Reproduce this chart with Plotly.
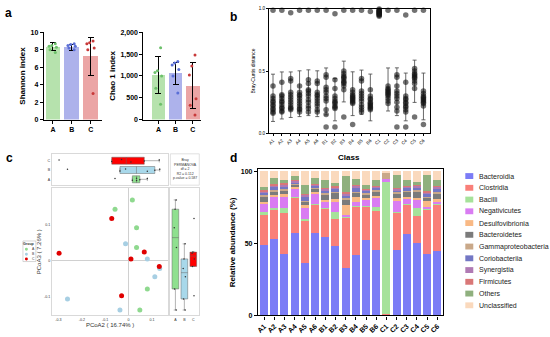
import plotly.graph_objects as go

W, H = 550, 337
FONT = "Liberation Sans, Arial, sans-serif"

# ---------------- data ----------------
groups = ["A", "B", "C"]
shannon_mean = [8.35, 8.3, 7.25]
shannon_sd = [0.45, 0.35, 2.15]
shannon_A = [8.7, 8.5, 8.4, 8.3, 8.0, 7.7]
shannon_B = [8.7, 8.6, 8.5, 8.4, 8.2, 8.0]
shannon_C = [9.0, 8.8, 8.7, 8.2, 8.0, 3.0]

chao_mean = [1025, 1065, 780]
chao_sd = [420, 250, 530]
chao_A = [1650, 1120, 1080, 1000, 720, 350]
chao_B = [1330, 1300, 1250, 1150, 1000, 610]
chao_C = [1480, 1230, 1020, 480, 330, 105]

samples = ["A1", "A2", "A3", "A4", "A5", "A6",
           "B1", "B2", "B3", "B4", "B5", "B6",
           "C1", "C2", "C3", "C4", "C5", "C6"]
bray_mean = [0.285, 0.304, 0.31, 0.318, 0.326, 0.318,
             0.336, 0.27, 0.416, 0.318, 0.33, 0.288,
             0.975, 0.352, 0.334, 0.292, 0.418, 0.296]
bray_sd = [0.19, 0.189, 0.183, 0.184, 0.184, 0.184,
           0.189, 0.17, 0.164, 0.176, 0.178, 0.188,
           0.02, 0.173, 0.192, 0.192, 0.17, 0.188]
bray_A = [
    [0.99, 0.38, 0.30, 0.28, 0.26, 0.25, 0.23, 0.22, 0.20, 0.19, 0.17, 0.16],
    [0.99, 0.41, 0.31, 0.30, 0.28, 0.26, 0.25, 0.23, 0.21, 0.20, 0.18, 0.17],
    [0.97, 0.44, 0.42, 0.33, 0.31, 0.29, 0.27, 0.25, 0.23, 0.21, 0.20, 0.19],
    [0.99, 0.38, 0.33, 0.31, 0.30, 0.28, 0.26, 0.24, 0.22, 0.20, 0.19, 0.17],
    [0.99, 0.43, 0.40, 0.35, 0.34, 0.32, 0.30, 0.27, 0.25, 0.22, 0.20, 0.17],
    [0.99, 0.42, 0.40, 0.33, 0.31, 0.30, 0.28, 0.26, 0.24, 0.22, 0.19, 0.17],
]
bray_B = [
    [0.99, 0.47, 0.45, 0.37, 0.35, 0.33, 0.30, 0.28, 0.26, 0.19, 0.15, 0.05],
    [0.96, 0.43, 0.36, 0.30, 0.28, 0.26, 0.25, 0.24, 0.22, 0.21, 0.20, 0.05],
    [0.99, 0.50, 0.48, 0.46, 0.45, 0.44, 0.42, 0.41, 0.40, 0.38, 0.35, 0.13],
    [0.99, 0.35, 0.33, 0.31, 0.30, 0.29, 0.28, 0.27, 0.26, 0.25, 0.24, 0.07],
    [0.99, 0.44, 0.42, 0.34, 0.32, 0.30, 0.28, 0.26, 0.23, 0.21, 0.19, 0.17],
    [0.98, 0.35, 0.30, 0.28, 0.27, 0.25, 0.24, 0.23, 0.22, 0.21, 0.20, 0.19],
]
bray_C = [
    [1.00, 0.99, 0.99, 0.98, 0.98, 0.97, 0.97, 0.96, 0.96, 0.95, 0.95, 0.94],
    [0.99, 0.38, 0.36, 0.35, 0.34, 0.33, 0.32, 0.31, 0.30, 0.28, 0.26, 0.24],
    [0.99, 0.47, 0.45, 0.38, 0.34, 0.32, 0.30, 0.28, 0.25, 0.21, 0.18, 0.05],
    [0.95, 0.41, 0.30, 0.28, 0.27, 0.25, 0.24, 0.22, 0.21, 0.19, 0.17, 0.05],
    [0.99, 0.52, 0.50, 0.48, 0.47, 0.46, 0.45, 0.44, 0.42, 0.40, 0.36, 0.13],
    [0.99, 0.34, 0.32, 0.30, 0.29, 0.28, 0.27, 0.26, 0.25, 0.24, 0.22, 0.07],
]

pcoa2_A = [0.016, -0.058, 0.034, 0.034, 0.080, 0.048]
pcoa3_A = [0.170, 0.144, 0.092, 0.037, -0.079, -0.138]
pcoa2_B = [-0.013, 0.080, 0.133, 0.112, -0.261, -0.037]
pcoa3_B = [0.047, 0.005, -0.022, -0.045, -0.107, -0.138]
pcoa2_C = [-0.072, -0.297, 0.067, 0.010, 0.131, -0.030]
pcoa3_C = [0.118, 0.021, 0.024, 0.005, -0.016, -0.098]
permanova_text = ["Bray", "PERMANOVA", "df = 2", "R2 = 0.112", "p-value = 0.587"]

class_names = ["Bacteroidia", "Clostridia", "Bacilli", "Negativicutes", "Desulfovibrionia",
               "Bacteroidetes", "Gammaproteobacteria", "Coriobacteriia", "Synergistia",
               "Firmicutes", "Others", "Unclassified"]
bacteroidia = [49.2, 53.1, 42.4, 57.6, 36.7, 57.1, 54.6, 48.5, 32.7, 41.7, 52.4, 45.6, 0.0, 45.1, 56.9, 50.1, 42.4, 44.7]
clostridia = [20.9, 20.4, 28.8, 24.3, 28.8, 19.3, 19.5, 18.8, 35.1, 33.4, 22.7, 27.2, 0.8, 26.1, 20.0, 18.8, 31.1, 32.2]
bacilli = [1.8, 1.1, 3.4, 0.6, 1.6, 1.2, 0.5, 4.6, 0.7, 0.6, 0.6, 2.3, 91.9, 0.7, 0.7, 5.7, 0.6, 0.7]
negativicutes = [5.4, 7.9, 7.9, 5.3, 7.5, 6.5, 4.1, 7.2, 1.6, 3.0, 4.6, 6.3, 2.3, 7.7, 3.4, 5.7, 1.0, 1.5]
desulfovibrionia = [1.4, 1.2, 1.6, 1.1, 2.3, 1.4, 1.6, 1.6, 6.8, 3.8, 1.6, 1.6, 0.0, 2.3, 1.1, 1.6, 4.5, 1.6]
bacteroidetes = [3.8, 2.4, 2.3, 1.6, 1.8, 2.3, 3.4, 4.1, 3.4, 2.3, 1.8, 2.9, 0.0, 2.2, 3.4, 4.0, 1.8, 3.4]
gammaproteobacteria = [1.2, 1.1, 1.4, 0.7, 0.9, 0.9, 1.1, 1.1, 1.1, 1.1, 1.1, 1.1, 4.3, 1.4, 1.1, 1.1, 1.1, 1.4]
coriobacteriia = [1.1, 1.7, 1.5, 1.1, 2.9, 1.3, 1.6, 1.9, 1.8, 2.8, 1.6, 1.2, 0.0, 1.1, 1.6, 1.7, 1.6, 2.3]
synergistia = [1.1, 1.3, 1.6, 0.9, 1.2, 0.9, 1.4, 0.9, 1.2, 1.3, 0.7, 1.1, 0.0, 1.2, 1.1, 1.3, 1.2, 1.1]
firmicutes = [1.1, 1.0, 1.4, 0.7, 0.7, 0.7, 0.9, 1.3, 1.1, 0.9, 0.7, 0.7, 0.0, 0.9, 0.7, 0.9, 1.1, 1.1]
others = [2.3, 4.5, 1.6, 2.9, 6.1, 3.9, 5.2, 2.3, 11.3, 3.7, 3.1, 3.9, 0.0, 8.6, 3.9, 1.8, 10.9, 3.9]
unclassified = [10.7, 4.3, 6.1, 3.2, 9.5, 4.5, 6.1, 7.7, 3.2, 5.4, 9.1, 6.1, 0.7, 2.7, 6.1, 7.3, 2.7, 6.1]

# ---------------- styles ----------------
bar_fills = ["#b6e2ad", "#adb2eb", "#eba5a5"]
dot_cols = ["#6cc06a", "#5a6ed6", "#c83a3a"]
pc_cols = ["#8fd98f", "#a7cfe3", "#e00000"]
box_fills = ["#8fe08f", "#a8d8ea", "#ff0000"]
class_colors = ["#7b7cf6", "#f97f79", "#a6e29a", "#d97cf2", "#f9b985", "#7b7b7b",
                "#c9a889", "#7377c4", "#b07ab4", "#d97777", "#8fb07e", "#fad9bd"]


def xd(a, b):
    return [a / W, b / W]


def yd(top, bottom):
    return [1 - bottom / H, 1 - top / H]


def px(x):
    return x / W


def py(y):
    return 1 - y / H


fig = go.Figure()

# ---------------- panel a ----------------
for ax, means, sds, pts in [("", shannon_mean, shannon_sd, [shannon_A, shannon_B, shannon_C]),
                            ("2", chao_mean, chao_sd, [chao_A, chao_B, chao_C])]:
    fig.add_trace(go.Bar(x=groups, y=means, marker=dict(color=bar_fills, line=dict(width=0)),
                         width=0.78,
                         error_y=dict(type="data", array=sds, color="black", thickness=1, width=3),
                         xaxis="x" + ax, yaxis="y" + ax, showlegend=False))
    for g, vals, c in zip(groups, pts, dot_cols):
        fig.add_trace(go.Box(x=[g] * len(vals), y=vals, boxpoints="all", jitter=0.8, pointpos=0,
                             width=0.6, fillcolor="rgba(0,0,0,0)",
                             line=dict(color="rgba(0,0,0,0)", width=0),
                             marker=dict(color=c, size=3), xaxis="x" + ax, yaxis="y" + ax,
                             showlegend=False))

# ---------------- panel b ----------------
bx, by = [], []
for lab, vals in zip(samples, bray_A + bray_B + bray_C):
    bx += [lab] * len(vals)
    by += vals
fig.add_trace(go.Scatter(x=samples, y=bray_mean, mode="markers",
                         marker=dict(size=1, color="rgba(0,0,0,0)"),
                         error_y=dict(type="data", array=bray_sd, color="#444", thickness=0.8, width=2),
                         xaxis="x3", yaxis="y3", showlegend=False))
fig.add_trace(go.Scatter(x=bx, y=by, mode="markers",
                         marker=dict(size=5.5, color="rgba(20,20,20,0.6)", line=dict(width=0)),
                         cliponaxis=False, xaxis="x3", yaxis="y3", showlegend=False))

# ---------------- panel c ----------------
for g, x2, y3, c, bf in zip(groups, [pcoa2_A, pcoa2_B, pcoa2_C], [pcoa3_A, pcoa3_B, pcoa3_C],
                            pc_cols, box_fills):
    fig.add_trace(go.Scatter(x=x2, y=y3, mode="markers", name=g,
                             marker=dict(size=5, color=c), xaxis="x5", yaxis="y5", showlegend=False))
    fig.add_trace(go.Box(x=x2, y=[g] * len(x2), orientation="h", boxpoints="all", jitter=0.4,
                         pointpos=0, width=0.75, fillcolor=bf, line=dict(color="#666", width=0.5),
                         marker=dict(color="#333", size=1.5), xaxis="x4", yaxis="y4", showlegend=False))
    fig.add_trace(go.Box(y=y3, x=[g] * len(y3), boxpoints="all", jitter=0.4,
                         pointpos=0, width=0.75, fillcolor=bf, line=dict(color="#666", width=0.5),
                         marker=dict(color="#333", size=1.5), xaxis="x6", yaxis="y6", showlegend=False))

# ---------------- panel d ----------------
class_values = [bacteroidia, clostridia, bacilli, negativicutes, desulfovibrionia, bacteroidetes,
                gammaproteobacteria, coriobacteriia, synergistia, firmicutes, others, unclassified]
for name, vals, col in zip(class_names, class_values, class_colors):
    fig.add_trace(go.Bar(x=samples, y=vals, name=name, width=0.78,
                         marker=dict(color=col, line=dict(width=0)),
                         xaxis="x7", yaxis="y7", showlegend=False))

# ---------------- axes ----------------
axfont_b = dict(family=FONT, size=7, color="black", weight="bold")
black_axis = dict(showline=True, linecolor="black", linewidth=1.3, ticks="outside",
                  ticklen=3, tickwidth=1.2, tickcolor="black", showgrid=False, zeroline=False)
light = dict(showline=True, mirror=True, linecolor="#d9d9d9", linewidth=0.8, showgrid=False,
             zeroline=False, ticks="", tickfont=dict(family=FONT, size=3.6, color="#333"))

fig.update_layout(
    xaxis=dict(domain=xd(42, 100), range=[-0.48, 2.58], anchor="y", tickfont=axfont_b, **black_axis),
    yaxis=dict(domain=yd(29, 118), range=[0, 10], dtick=2, anchor="x", tickfont=axfont_b,
               title=dict(text="Shannon index", font=dict(family=FONT, size=8, weight="bold"), standoff=3),
               **black_axis),
    xaxis2=dict(domain=xd(142, 200), range=[-0.87, 2.49], anchor="y2", tickfont=axfont_b, **black_axis),
    yaxis2=dict(domain=yd(29, 118), range=[0, 2000], dtick=500, tickformat=",", anchor="x2",
                tickfont=axfont_b,
                title=dict(text="Chao 1 index", font=dict(family=FONT, size=8, weight="bold"), standoff=3),
                **black_axis),
    xaxis3=dict(domain=xd(268, 430), range=[-0.45, 17.79], anchor="y3", mirror=True, tickangle=-45,
                tickfont=dict(family=FONT, size=4.5, color="black"), showline=True, linecolor="black",
                linewidth=1, ticks="outside", ticklen=2, tickcolor="black", showgrid=False, zeroline=False),
    yaxis3=dict(domain=yd(5, 132), range=[0, 1], tickvals=[0, 0.5, 1.0], ticktext=["0.0", "0.5", "1.0"],
                anchor="x3", mirror=True, tickfont=dict(family=FONT, size=4.5, color="black"),
                showline=True, linecolor="black", linewidth=1, ticks="outside", ticklen=2,
                tickcolor="black", showgrid=False, zeroline=False,
                title=dict(text="Bray-Curtis distance", font=dict(family=FONT, size=5), standoff=3)),
    xaxis4=dict(domain=xd(50, 167), range=[-0.328, 0.170], anchor="y4", showticklabels=False, **light),
    yaxis4=dict(domain=yd(153, 185), range=[-0.63, 2.74], anchor="x4", type="category",
                categoryorder="array", categoryarray=groups, **light),
    xaxis5=dict(domain=xd(50, 167), range=[-0.328, 0.170], anchor="y5",
                tickvals=[-0.3, -0.2, -0.1, 0, 0.1], ticktext=["-0.3", "-0.2", "-0.1", "0", "0.1"],
                title=dict(text="PCoA2 ( 16.74% )", font=dict(family=FONT, size=6, color="#333"), standoff=1),
                **{**light, "zeroline": True, "zerolinecolor": "#d0d0d0", "zerolinewidth": 0.8}),
    yaxis5=dict(domain=yd(188, 318), range=[-0.153, 0.203], anchor="x5",
                tickvals=[-0.1, 0, 0.1], ticktext=["-0.1", "0", "0.1"],
                title=dict(text="PCoA3 ( 7.26% )", font=dict(family=FONT, size=6, color="#333"), standoff=1),
                **{**light, "zeroline": True, "zerolinecolor": "#d0d0d0", "zerolinewidth": 0.8}),
    xaxis6=dict(domain=xd(169, 198), range=[-0.56, 2.67], anchor="y6", type="category",
                categoryorder="array", categoryarray=groups, **light),
    yaxis6=dict(domain=yd(188, 318), range=[-0.153, 0.203], anchor="x6", showticklabels=False, **light),
    xaxis7=dict(domain=xd(257, 443), range=[-0.59, 17.59], anchor="y7", mirror=True, tickangle=-45,
                tickfont=axfont_b, **black_axis),
    yaxis7=dict(domain=yd(169, 318), range=[0, 101.4], tickvals=[0, 50, 100], anchor="x7", mirror=True,
                tickfont=axfont_b,
                title=dict(text="Relative abundance (%)", font=dict(family=FONT, size=8, weight="bold"),
                           standoff=4),
                **black_axis),
)

# ---------------- shapes & annotations ----------------
shapes = []
annotations = []


def note(text, x, y, size, xanchor="center", **fontkw):
    annotations.append(dict(text=text, x=px(x), y=py(y), xref="paper", yref="paper", showarrow=False,
                            xanchor=xanchor, yanchor="middle",
                            font=dict(family=FONT, size=size, **fontkw)))


for lab, x, y in [("a", 7, 9), ("b", 232, 13), ("c", 8, 157), ("d", 232, 157)]:
    note(lab, x, y, 12, color="black", weight="bold")
note("Class", 348, 157, 8, color="black", weight="bold")

# PERMANOVA panel
shapes.append(dict(type="rect", xref="paper", yref="paper", x0=px(169), x1=px(198), y0=py(185), y1=py(153),
                   line=dict(color="#d9d9d9", width=0.8)))
annotations.append(dict(text="<br>".join(permanova_text), x=px(183.5), y=py(169), xref="paper", yref="paper",
                        showarrow=False, align="center", xanchor="center", yanchor="middle",
                        font=dict(family=FONT, size=3.5, color="#333")))
# group legend for c
shapes.append(dict(type="rect", xref="paper", yref="paper", x0=px(21), x1=px(34), y0=py(263), y1=py(242),
                   line=dict(color="#bbbbbb", width=0.6)))
note("Group", 27.5, 245.5, 3.6, color="#333", weight="bold")
for i, (g, c) in enumerate(zip(groups, pc_cols)):
    cy = 250.5 + 5 * i
    shapes.append(dict(type="circle", xref="paper", yref="paper", x0=px(23), x1=px(26),
                       y0=py(cy + 1.5), y1=py(cy - 1.5), fillcolor=c, line=dict(width=0)))
    note(g, 28, cy, 3.4, xanchor="left", color="#333")
# class legend for d
for i, (name, col) in enumerate(zip(class_names, class_colors)):
    ry = 175.7 + 12 * i
    shapes.append(dict(type="rect", xref="paper", yref="paper", x0=px(465), x1=px(473),
                       y0=py(ry + 3), y1=py(ry - 3), fillcolor=col, line=dict(width=0)))
    note(name, 477, ry, 7.0, xanchor="left", color="#222")

fig.update_layout(
    width=W, height=H, margin=dict(l=0, r=0, t=0, b=0),
    paper_bgcolor="white", plot_bgcolor="white",
    barmode="stack", boxmode="overlay",
    font=dict(family=FONT, color="black"),
    shapes=shapes, annotations=annotations, showlegend=False,
)

fig.write_html("out.html", config={"displayModeBar": False},
               post_script="document.body.style.margin='0px';")
